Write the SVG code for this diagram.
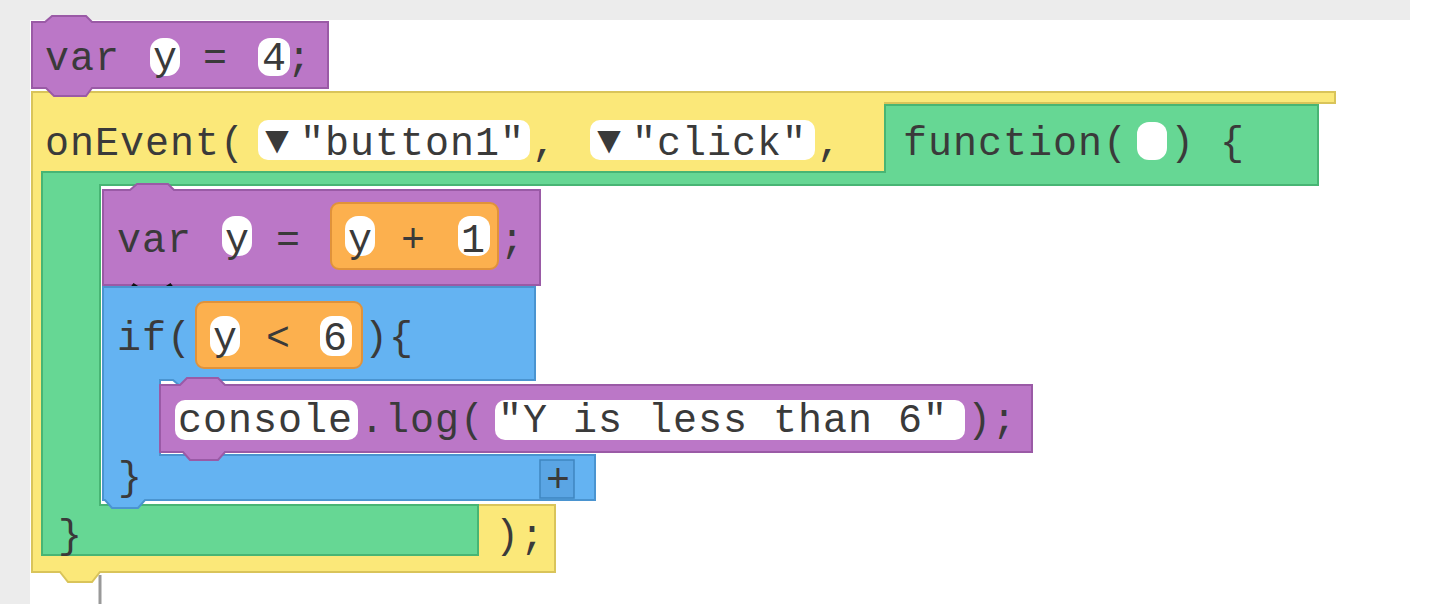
<svg xmlns="http://www.w3.org/2000/svg" width="1440" height="604" viewBox="0 0 1440 604">
<style>
text{font-family:"Liberation Mono","DejaVu Sans Mono",monospace;font-size:40px;fill:#3a3a3a;letter-spacing:1px}
.p{fill:#bb77c7;stroke:#9a5aa6;stroke-width:2}
.y{fill:#fbe879;stroke:#d9c45a;stroke-width:2}
.g{fill:#66d794;stroke:#48b574;stroke-width:2}
.b{fill:#64b3f2;stroke:#4a94d0;stroke-width:2}
.o{fill:#fcb04e;stroke:#e0923a;stroke-width:2}
.w{fill:#ffffff}
</style>
<rect width="1440" height="604" fill="#fff"/>
<rect x="0" y="0" width="1410" height="20" fill="#ececec"/>
<rect x="0" y="0" width="30" height="604" fill="#ececec"/>
<line x1="100" y1="575" x2="100" y2="604" stroke="#999" stroke-width="3"/>
<g id="onEvent">
<path class="y" d="M32 92 H1335 V103 H885 V185 H45 V545 H478 V505 H555 V572 H100 L92 582 H68 L60 572 H32 Z"/>
<rect class="w" x="258" y="120" width="272" height="40" rx="10"/>
<rect class="w" x="590" y="120" width="225" height="40" rx="10"/>
<text x="45" y="155">onEvent(</text>
<text x="265" y="153" font-size="30">▼</text>
<text x="300" y="155">"button1"</text>
<text x="532" y="155">,</text>
<text x="597" y="153" font-size="30">▼</text>
<text x="632" y="155">"click"</text>
<text x="817" y="155">,</text>
<text x="495" y="548">);</text>
</g>
<g id="function">
<path class="g" d="M885 105 H1318 V185 H100 V505 H478 V555 H42 V172 H885 Z"/>
<rect class="w" x="1137" y="122" width="30" height="38" rx="12"/>
<text x="903" y="155">function(</text>
<text x="1170" y="155">) {</text>
<text x="58" y="548">}</text>
</g>
<g id="varY4">
<path class="p" d="M32 22 H45 L52 16 H86 L92 22 H328 V88 H92 L86 96 H54 L46 88 H32 Z"/>
<rect class="w" x="150" y="38" width="30" height="38" rx="13"/>
<rect class="w" x="258" y="38" width="32" height="38" rx="12"/>
<text x="45" y="70">var</text>
<text x="153" y="70">y</text>
<text x="203" y="70">=</text>
<text x="262" y="70">4;</text>
</g>
<g id="varYplus1">
<path class="p" d="M103 190 H130 L137 184 H168 L174 190 H540 V285 H103 Z"/>
<rect class="o" x="331" y="203" width="167" height="66" rx="8"/>
<rect class="w" x="222" y="216" width="30" height="40" rx="13"/>
<rect class="w" x="345" y="216" width="30" height="40" rx="13"/>
<rect class="w" x="458" y="216" width="32" height="40" rx="12"/>
<text x="117" y="252">var</text>
<text x="225" y="252">y</text>
<text x="276" y="252">=</text>
<text x="348" y="252">y</text>
<text x="401" y="252">+</text>
<text x="461" y="252">1</text>
<text x="500" y="252">;</text>
<path d="M132 285 Q152 300 172 285" fill="none" stroke="#111" stroke-width="5"/>
</g>
<g id="if">
<path class="b" d="M103 287 H535 V380 H215 L208 386 H180 L173 380 H160 V455 H595 V500 H145 L138 508 H112 L105 500 H103 Z"/>
<rect x="540" y="460" width="34" height="38" fill="#5aa5e4" stroke="#3f86c0" stroke-width="1.5"/>
<text x="546" y="492" font-size="30">+</text>
<rect class="o" x="196" y="302" width="166" height="66" rx="8"/>
<rect class="w" x="210" y="316" width="30" height="40" rx="13"/>
<rect class="w" x="320" y="316" width="32" height="40" rx="12"/>
<text x="117" y="350">if(</text>
<text x="213" y="350">y</text>
<text x="266" y="350">&lt;</text>
<text x="323" y="350">6</text>
<text x="364" y="350">){</text>
<text x="118" y="490">}</text>
</g>
<g id="consoleLog">
<path class="p" d="M160 385 H180 L187 378 H218 L225 385 H1032 V452 H225 L218 460 H190 L183 452 H160 Z"/>
<rect class="w" x="175" y="400" width="183" height="40" rx="10"/>
<rect class="w" x="495" y="400" width="470" height="40" rx="10"/>
<text x="178" y="432">console</text>
<text x="360" y="432">.log(</text>
<text x="498" y="432">"Y is less than 6"</text>
<text x="967" y="432">);</text>
</g>
</svg>
